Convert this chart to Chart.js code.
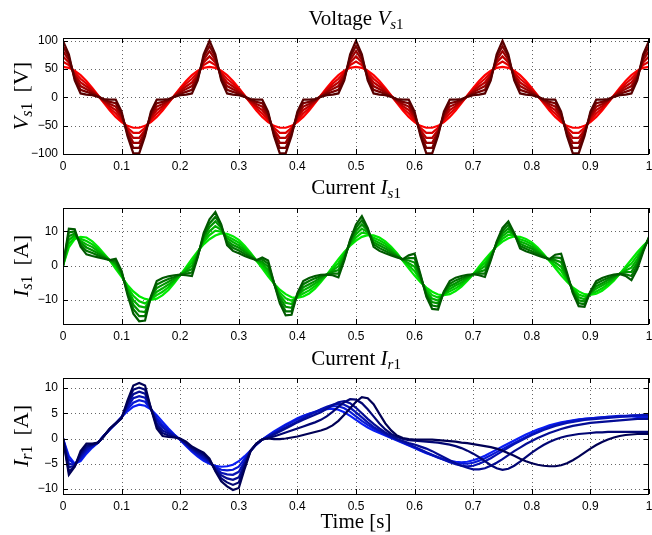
<!DOCTYPE html>
<html lang="en">
<head>
<meta charset="UTF-8">
<title>Vs1 / Is1 / Ir1</title>
<script src="https://cdn.jsdelivr.net/npm/chart.js"></script>
<style>
  body { margin: 0; background: #fff; }
  #fig { position: relative; width: 652px; height: 535px; overflow: hidden; }
  canvas { position: absolute; left: 0; }
  .lab { position: absolute; font-family: "Liberation Serif", "Times New Roman", serif; font-size: 21px; color: #000; white-space: nowrap; z-index: 2; line-height: 1; }
  .ttl { left: 56px; width: 600px; text-align: center; }
  .ylab { width: 200px; height: 22px; line-height: 22px; text-align: center; transform: rotate(-90deg); font-size: 22px; }
  .ylab .u { margin-left: 10px; }
  .lab sub { font-size: 15px; vertical-align: -4px; line-height: 0; }
  .ylab sub { font-size: 16px; }
</style>
</head>
<body>
<div id="fig">
  <div class="lab ttl" style="top:8px">Voltage <i>V</i><sub><i>s</i>1</sub></div>
  <div class="lab ttl" style="top:177px">Current <i>I</i><sub><i>s</i>1</sub></div>
  <div class="lab ttl" style="top:348px">Current <i>I</i><sub><i>r</i>1</sub></div>
  <div class="lab ttl" style="top:511px">Time [s]</div>
  <div class="lab ylab" style="left:-79px; top:85px"><i>V</i><sub><i>s</i>1</sub><span class="u">[V]</span></div>
  <div class="lab ylab" style="left:-79px; top:255px"><i>I</i><sub><i>s</i>1</sub><span class="u">[A]</span></div>
  <div class="lab ylab" style="left:-79px; top:425px"><i>I</i><sub><i>r</i>1</sub><span class="u">[A]</span></div>
  <canvas id="c1" width="652" height="146" style="top:30px"></canvas>
  <canvas id="c2" width="652" height="146" style="top:200px"></canvas>
  <canvas id="c3" width="652" height="146" style="top:370px"></canvas>
</div>
<script>
// time axis [s]
const t = [0, 0.01, 0.02, 0.03, 0.04, 0.05, 0.06, 0.07, 0.08, 0.09,
  0.1, 0.11, 0.12, 0.13, 0.14, 0.15, 0.16, 0.17, 0.18, 0.19,
  0.2, 0.21, 0.22, 0.23, 0.24, 0.25, 0.26, 0.27, 0.28, 0.29,
  0.3, 0.31, 0.32, 0.33, 0.34, 0.35, 0.36, 0.37, 0.38, 0.39,
  0.4, 0.41, 0.42, 0.43, 0.44, 0.45, 0.46, 0.47, 0.48, 0.49,
  0.5, 0.51, 0.52, 0.53, 0.54, 0.55, 0.56, 0.57, 0.58, 0.59,
  0.6, 0.61, 0.62, 0.63, 0.64, 0.65, 0.66, 0.67, 0.68, 0.69,
  0.7, 0.71, 0.72, 0.73, 0.74, 0.75, 0.76, 0.77, 0.78, 0.79,
  0.8, 0.81, 0.82, 0.83, 0.84, 0.85, 0.86, 0.87, 0.88, 0.89,
  0.9, 0.91, 0.92, 0.93, 0.94, 0.95, 0.96, 0.97, 0.98, 0.99, 1];

const xTicks = [0, 0.1, 0.2, 0.3, 0.4, 0.5, 0.6, 0.7, 0.8, 0.9, 1];
const vsTicks = [-100, -50, 0, 50, 100];
const isTicks = [-10, 0, 10];
const irTicks = [-10, -5, 0, 5, 10];

// Voltage Vs1, lightest (red) to darkest
const vs1_a = [
  54, 52.3, 47.3, 39.4, 28.9, 16.7, 3.4, -10.1, -23, -34.4, -43.7, -50.2, -53.6, -53.6, -50.2, -43.7, -34.4, -23, -10.1, 3.4, 16.7, 28.9, 39.4, 47.3, 52.3,
  54, 52.3, 47.3, 39.4, 28.9, 16.7, 3.4, -10.1, -23, -34.4, -43.7, -50.2, -53.6, -53.6, -50.2, -43.7, -34.4, -23, -10.1, 3.4, 16.7, 28.9, 39.4, 47.3, 52.3,
  54, 52.3, 47.3, 39.4, 28.9, 16.7, 3.4, -10.1, -23, -34.4, -43.7, -50.2, -53.6, -53.6, -50.2, -43.7, -34.4, -23, -10.1, 3.4, 16.7, 28.9, 39.4, 47.3, 52.3,
  54, 52.3, 47.3, 39.4, 28.9, 16.7, 3.4, -10.1, -23, -34.4, -43.7, -50.2, -53.6, -53.6, -50.2, -43.7, -34.4, -23, -10.1, 3.4, 16.7, 28.9, 39.4, 47.3, 52.3,
  54];
const vs1_b = [
  63.2, 57, 43.8, 32.9, 24.1, 14.2, 2.9, -8.7, -19.2, -28.3, -40, -53.8, -62.5, -62.5, -53.8, -40, -28.3, -19.2, -8.7, 2.9, 14.2, 24.1, 32.9, 43.8, 57,
  63.2, 57, 43.8, 32.9, 24.1, 14.2, 2.9, -8.7, -19.2, -28.3, -40, -53.8, -62.5, -62.5, -53.8, -40, -28.3, -19.2, -8.7, 2.9, 14.2, 24.1, 32.9, 43.8, 57,
  63.2, 57, 43.8, 32.9, 24.1, 14.2, 2.9, -8.7, -19.2, -28.3, -40, -53.8, -62.5, -62.5, -53.8, -40, -28.3, -19.2, -8.7, 2.9, 14.2, 24.1, 32.9, 43.8, 57,
  63.2, 57, 43.8, 32.9, 24.1, 14.2, 2.9, -8.7, -19.2, -28.3, -40, -53.8, -62.5, -62.5, -53.8, -40, -28.3, -19.2, -8.7, 2.9, 14.2, 24.1, 32.9, 43.8, 57,
  63.2];
const vs1_c = [
  72.4, 61.8, 40.4, 26.4, 19.3, 11.6, 2.4, -7.3, -15.4, -22.2, -36.2, -57.3, -71.4, -71.4, -57.3, -36.2, -22.2, -15.4, -7.3, 2.4, 11.6, 19.3, 26.4, 40.4, 61.8,
  72.4, 61.8, 40.4, 26.4, 19.3, 11.6, 2.4, -7.3, -15.4, -22.2, -36.2, -57.3, -71.4, -71.4, -57.3, -36.2, -22.2, -15.4, -7.3, 2.4, 11.6, 19.3, 26.4, 40.4, 61.8,
  72.4, 61.8, 40.4, 26.4, 19.3, 11.6, 2.4, -7.3, -15.4, -22.2, -36.2, -57.3, -71.4, -71.4, -57.3, -36.2, -22.2, -15.4, -7.3, 2.4, 11.6, 19.3, 26.4, 40.4, 61.8,
  72.4, 61.8, 40.4, 26.4, 19.3, 11.6, 2.4, -7.3, -15.4, -22.2, -36.2, -57.3, -71.4, -71.4, -57.3, -36.2, -22.2, -15.4, -7.3, 2.4, 11.6, 19.3, 26.4, 40.4, 61.8,
  72.4];
const vs1_d = [
  81.6, 66.5, 36.9, 20, 14.6, 9.1, 2, -5.8, -11.6, -16.2, -32.5, -60.9, -80.2, -80.2, -60.9, -32.5, -16.2, -11.6, -5.8, 2, 9.1, 14.6, 20, 36.9, 66.5,
  81.6, 66.5, 36.9, 20, 14.6, 9.1, 2, -5.8, -11.6, -16.2, -32.5, -60.9, -80.2, -80.2, -60.9, -32.5, -16.2, -11.6, -5.8, 2, 9.1, 14.6, 20, 36.9, 66.5,
  81.6, 66.5, 36.9, 20, 14.6, 9.1, 2, -5.8, -11.6, -16.2, -32.5, -60.9, -80.2, -80.2, -60.9, -32.5, -16.2, -11.6, -5.8, 2, 9.1, 14.6, 20, 36.9, 66.5,
  81.6, 66.5, 36.9, 20, 14.6, 9.1, 2, -5.8, -11.6, -16.2, -32.5, -60.9, -80.2, -80.2, -60.9, -32.5, -16.2, -11.6, -5.8, 2, 9.1, 14.6, 20, 36.9, 66.5,
  81.6];
const vs1_e = [
  90.8, 71.3, 33.5, 13.5, 9.8, 6.5, 1.5, -4.4, -7.8, -10.1, -28.7, -64.4, -89.1, -89.1, -64.4, -28.7, -10.1, -7.8, -4.4, 1.5, 6.5, 9.8, 13.5, 33.5, 71.3,
  90.8, 71.3, 33.5, 13.5, 9.8, 6.5, 1.5, -4.4, -7.8, -10.1, -28.7, -64.4, -89.1, -89.1, -64.4, -28.7, -10.1, -7.8, -4.4, 1.5, 6.5, 9.8, 13.5, 33.5, 71.3,
  90.8, 71.3, 33.5, 13.5, 9.8, 6.5, 1.5, -4.4, -7.8, -10.1, -28.7, -64.4, -89.1, -89.1, -64.4, -28.7, -10.1, -7.8, -4.4, 1.5, 6.5, 9.8, 13.5, 33.5, 71.3,
  90.8, 71.3, 33.5, 13.5, 9.8, 6.5, 1.5, -4.4, -7.8, -10.1, -28.7, -64.4, -89.1, -89.1, -64.4, -28.7, -10.1, -7.8, -4.4, 1.5, 6.5, 9.8, 13.5, 33.5, 71.3,
  90.8];
const vs1_f = [
  100, 76, 30, 7, 5, 4, 1, -3, -4, -4, -25, -68, -99, -99, -68, -25, -4, -4, -3, 1, 4, 5, 7, 30, 76,
  100, 76, 30, 7, 5, 4, 1, -3, -4, -4, -25, -68, -99, -99, -68, -25, -4, -4, -3, 1, 4, 5, 7, 30, 76,
  100, 76, 30, 7, 5, 4, 1, -3, -4, -4, -25, -68, -99, -99, -68, -25, -4, -4, -3, 1, 4, 5, 7, 30, 76,
  100, 76, 30, 7, 5, 4, 1, -3, -4, -4, -25, -68, -99, -99, -68, -25, -4, -4, -3, 1, 4, 5, 7, 30, 76,
  100];

// Current Is1, lightest (green) to darkest
const is1_a = [0, 5.3, 7.7, 8.4, 8.2, 7.1, 5.4, 3.5, 1.5, -0.9,
  -3.3, -5.6, -7.5, -8.9, -9.7, -10.0, -9.6, -8.6, -7.1, -5.1,
  -2.8, -0.4, 2.0, 4.2, 6.2, 7.7, 8.8, 9.4, 9.3, 8.6,
  7.5, 5.8, 3.8, 1.5, -0.8, -3.1, -5.2, -7.0, -8.3, -9.2,
  -9.4, -9.0, -8.1, -6.7, -4.8, -2.7, -0.4, 1.9, 4.0, 5.8,
  7.3, 8.4, 8.9, 8.8, 8.2, 7.1, 5.5, 3.6, 1.4, -0.8,
  -2.9, -4.8, -6.4, -7.6, -8.4, -8.6, -8.3, -7.4, -6.1, -4.4,
  -2.5, -0.3, 1.8, 3.8, 5.6, 7.0, 8.0, 8.5, 8.4, 7.8,
  6.8, 5.3, 3.4, 1.4, -0.7, -2.8, -4.7, -6.3, -7.5, -8.3,
  -8.5, -8.2, -7.3, -6.0, -4.4, -2.4, -0.3, 1.8, 3.9, 5.8,
  7.4];
const is1_b = [0, 6.4, 8.3, 7.8, 7.2, 6.2, 4.8, 3.2, 1.5, -0.3,
  -2.9, -6.2, -8.8, -10.4, -11.0, -9.8, -8.6, -7.6, -6.3, -4.6,
  -2.8, -0.9, 1.0, 3.9, 6.9, 8.9, 10.2, 9.9, 8.6, 7.7,
  6.7, 5.2, 3.5, 1.5, -0.2, -2.2, -5.2, -7.8, -9.5, -10.2,
  -9.1, -8.1, -7.2, -6.0, -4.4, -2.7, -0.9, 0.8, 3.5, 6.1,
  8.2, 9.6, 9.3, 8.1, 7.4, 6.4, 5.0, 3.4, 1.5, 0.0,
  -1.6, -4.3, -6.9, -8.6, -9.3, -8.4, -7.5, -6.6, -5.5, -4.1,
  -2.5, -0.8, 0.8, 3.3, 5.9, 7.8, 9.0, 8.7, 7.7, 7.1,
  6.2, 4.8, 3.2, 1.5, 0.1, -1.5, -4.2, -6.6, -8.4, -9.0,
  -8.3, -7.5, -6.6, -5.4, -4.0, -2.4, -0.8, 0.6, 2.9, 5.4,
  7.6];
const is1_c = [0, 7.5, 8.9, 7.2, 6.2, 5.4, 4.2, 2.9, 1.5, 0.3,
  -2.6, -6.8, -10.1, -11.8, -12.2, -9.6, -7.6, -6.6, -5.5, -4.2,
  -2.7, -1.4, 0, 3.5, 7.5, 10.0, 11.5, 10.4, 8.0, 6.9,
  5.9, 4.6, 3.2, 1.5, 0.5, -1.3, -5.1, -8.6, -10.8, -11.2,
  -8.8, -7.2, -6.3, -5.2, -4.0, -2.7, -1.4, -0.2, 3.0, 6.5,
  9.2, 10.8, 9.7, 7.5, 6.6, 5.7, 4.5, 3.1, 1.6, 0.7,
  -0.3, -3.9, -7.4, -9.6, -10.2, -8.2, -6.8, -5.8, -4.9, -3.7,
  -2.5, -1.3, -0.2, 2.9, 6.2, 8.6, 10.0, 8.9, 7.0, 6.4,
  5.5, 4.4, 3.0, 1.6, 0.9, -0.3, -3.6, -7.0, -9.2, -9.8,
  -8.1, -6.7, -5.8, -4.8, -3.7, -2.4, -1.4, -0.6, 1.9, 5.1,
  7.8];
const is1_d = [0, 8.6, 9.4, 6.7, 5.3, 4.5, 3.6, 2.6, 1.6, 0.8,
  -2.2, -7.3, -11.4, -13.3, -13.5, -9.4, -6.5, -5.6, -4.7, -3.7,
  -2.7, -1.8, -1.0, 3.2, 8.2, 11.2, 12.9, 11.0, 7.3, 6.0,
  5.2, 4.0, 2.8, 1.6, 1.1, -0.3, -5.1, -9.4, -12.0, -12.3,
  -8.6, -6.3, -5.4, -4.5, -3.5, -2.6, -1.8, -1.3, 2.5, 6.8,
  10.1, 12.0, 10.2, 6.8, 5.9, 5.0, 4.0, 2.9, 1.7, 1.5,
  0.9, -3.4, -8.0, -10.6, -11.0, -7.9, -6.0, -5.1, -4.2, -3.4,
  -2.5, -1.8, -1.3, 2.4, 6.4, 9.4, 10.9, 9.1, 6.4, 5.6,
  4.9, 3.9, 2.8, 1.7, 1.6, 1.0, -3.1, -7.3, -10.1, -10.5,
  -7.9, -6.0, -5.1, -4.2, -3.3, -2.4, -1.9, -1.8, 1.0, 4.7,
  8.0];
const is1_e = [0, 9.7, 10.0, 6.1, 4.3, 3.7, 3.0, 2.3, 1.6, 1.4,
  -1.9, -7.9, -12.7, -14.7, -14.7, -9.2, -5.5, -4.6, -3.9, -3.3,
  -2.6, -2.3, -2.0, 2.8, 8.8, 12.3, 14.2, 11.5, 6.7, 5.2,
  4.4, 3.4, 2.5, 1.6, 1.8, 0.6, -5.0, -10.2, -13.3, -13.3,
  -8.3, -5.4, -4.5, -3.7, -3.1, -2.6, -2.3, -2.3, 2.0, 7.2,
  11.1, 13.2, 10.6, 6.2, 5.1, 4.3, 3.5, 2.6, 1.8, 2.2,
  2.2, -3.0, -8.5, -11.6, -11.9, -7.7, -5.3, -4.3, -3.6, -3.0,
  -2.5, -2.3, -2.3, 2.0, 6.7, 10.2, 11.9, 9.3, 5.7, 4.9,
  4.2, 3.5, 2.6, 1.8, 2.4, 2.2, -2.5, -7.7, -10.9, -11.3,
  -7.7, -5.2, -4.3, -3.6, -3.0, -2.4, -2.5, -3.0, 0.0, 4.4,
  8.2];
const is1_f = [0, 10.8, 10.6, 5.5, 3.3, 2.8, 2.4, 2.0, 1.6, 2.0,
  -1.5, -8.5, -14.0, -16.2, -16.0, -9.0, -4.5, -3.6, -3.1, -2.8,
  -2.6, -2.8, -3.0, 2.5, 9.5, 13.5, 15.6, 12.0, 6.0, 4.3,
  3.6, 2.8, 2.2, 1.6, 2.4, 1.5, -5.0, -11.0, -14.5, -14.3,
  -8.0, -4.5, -3.6, -3.0, -2.7, -2.6, -2.8, -3.4, 1.5, 7.5,
  12.0, 14.4, 11.0, 5.5, 4.3, 3.6, 3.0, 2.4, 1.9, 3.0,
  3.5, -2.5, -9.0, -12.6, -12.8, -7.5, -4.5, -3.5, -3.0, -2.7,
  -2.5, -2.8, -3.3, 1.5, 7.0, 11.0, 12.9, 9.5, 5.0, 4.2,
  3.6, 3.0, 2.4, 1.9, 3.2, 3.5, -2.0, -8.0, -11.8, -12.0,
  -7.5, -4.5, -3.6, -3.0, -2.6, -2.4, -3.0, -4.2, -1.0, 4.0,
  8.4];

// Current Ir1, lightest (blue) to darkest
const ir1_a = [0, -3.5, -5.0, -4.5, -3.0, -1.8, -0.8, 0.6, 1.8, 3.0,
  4.3, 5.4, 6.3, 6.7, 6.5, 5.8, 4.6, 3.3, 2.0, 0.8,
  -0.3, -1.5, -2.6, -3.6, -4.4, -5.0, -5.4, -5.6, -5.5, -5.2,
  -4.5, -3.5, -2.4, -1.2, -0.2, 0.6, 1.4, 2.1, 2.8, 3.4,
  4.0, 4.5, 4.9, 5.2, 5.5, 5.8, 5.9, 5.7, 5.2, 4.5,
  3.7, 2.9, 2.2, 1.6, 1.1, 0.6, 0.1, -0.4, -0.9, -1.4,
  -1.9, -2.4, -2.9, -3.3, -3.7, -4.1, -4.4, -4.6, -4.7, -4.6,
  -4.3, -3.9, -3.4, -2.8, -2.2, -1.6, -1.0, -0.4, 0.2, 0.8,
  1.3, 1.8, 2.2, 2.6, 2.9, 3.2, 3.4, 3.6, 3.8, 3.9,
  4.0, 4.1, 4.2, 4.3, 4.3, 4.4, 4.4, 4.4, 4.3, 4.2,
  4.0];
const ir1_b = [0, -4.2, -5.1, -4.1, -2.6, -1.6, -0.8, 0.6, 1.8, 3.0,
  4.2, 5.8, 7.1, 7.6, 7.3, 5.8, 4.1, 2.7, 1.7, 0.7,
  -0.2, -1.3, -2.4, -3.3, -4.1, -4.8, -5.6, -6.2, -6.3, -6.2,
  -5.6, -4.0, -2.4, -1.2, -0.2, 0.5, 1.2, 1.9, 2.6, 3.2,
  3.8, 4.4, 4.9, 5.3, 5.7, 6.1, 6.4, 6.4, 6.0, 5.3,
  4.4, 3.5, 2.7, 2.0, 1.4, 0.8, 0.2, -0.3, -0.8, -1.3,
  -1.8, -2.3, -2.8, -3.3, -3.8, -4.2, -4.6, -4.9, -5.0, -5.0,
  -4.8, -4.4, -3.9, -3.3, -2.7, -2.1, -1.5, -0.9, -0.3, 0.3,
  0.9, 1.4, 1.9, 2.3, 2.7, 3.0, 3.3, 3.5, 3.7, 3.9,
  4.0, 4.1, 4.2, 4.3, 4.4, 4.5, 4.5, 4.6, 4.6, 4.5,
  4.4];
const ir1_c = [0, -5.0, -5.2, -3.7, -2.2, -1.5, -0.8, 0.6, 1.9, 3.0,
  4.2, 6.2, 8.0, 8.4, 8.1, 5.9, 3.6, 2.2, 1.3, 0.6,
  -0.2, -1.1, -2.2, -3.0, -3.8, -4.6, -5.8, -6.8, -7.1, -7.2,
  -6.6, -4.5, -2.4, -1.1, -0.2, 0.4, 1.0, 1.6, 2.2, 2.8,
  3.4, 4.0, 4.6, 5.2, 5.8, 6.3, 6.7, 6.9, 6.7, 6.1,
  5.2, 4.2, 3.2, 2.3, 1.6, 0.9, 0.3, -0.2, -0.7, -1.2,
  -1.7, -2.2, -2.7, -3.2, -3.7, -4.2, -4.7, -5.1, -5.4, -5.5,
  -5.4, -5.0, -4.5, -3.9, -3.2, -2.5, -1.8, -1.1, -0.5, 0.1,
  0.7, 1.2, 1.7, 2.1, 2.5, 2.8, 3.1, 3.3, 3.5, 3.7,
  3.8, 3.9, 4.0, 4.1, 4.2, 4.3, 4.4, 4.5, 4.6, 4.7,
  4.7];
const ir1_d = [0, -5.7, -5.4, -3.3, -1.8, -1.3, -0.8, 0.5, 1.9, 3.0,
  4.1, 6.7, 8.8, 9.3, 8.9, 5.9, 3.0, 1.6, 1.0, 0.4,
  -0.1, -1.0, -2.0, -2.8, -3.4, -4.4, -6.1, -7.3, -7.9, -8.2,
  -7.7, -5.0, -2.5, -1.1, -0.2, 0.2, 0.8, 1.4, 2.0, 2.6,
  3.2, 3.7, 4.2, 4.7, 5.2, 5.9, 6.6, 7.2, 7.4, 7.0,
  6.1, 5.0, 3.9, 2.9, 2.0, 1.2, 0.5, -0.1, -0.5, -0.9,
  -1.2, -1.6, -2.0, -2.5, -3.1, -3.7, -4.3, -4.9, -5.4, -5.8,
  -6.1, -6.1, -5.9, -5.4, -4.8, -4.1, -3.3, -2.5, -1.8, -1.1,
  -0.5, 0.1, 0.6, 1.1, 1.5, 1.9, 2.2, 2.5, 2.7, 2.9,
  3.1, 3.2, 3.3, 3.4, 3.5, 3.6, 3.7, 3.8, 3.9, 3.9,
  3.9];
const ir1_e = [0, -6.5, -5.5, -2.9, -1.4, -1.2, -0.8, 0.5, 2.0, 3.0,
  4.1, 7.1, 9.7, 10.1, 9.7, 6.0, 2.5, 1.1, 0.6, 0.3,
  -0.1, -0.8, -1.8, -2.5, -3.1, -4.2, -6.3, -7.9, -8.7, -9.2,
  -8.7, -5.5, -2.5, -1.0, -0.2, 0.1, 0.4, 0.8, 1.2, 1.6,
  2.0, 2.4, 2.8, 3.2, 3.7, 4.4, 5.3, 6.3, 7.2, 7.8,
  7.7, 7.0, 5.8, 4.4, 3.0, 1.8, 0.9, 0.3, -0.1, -0.3,
  -0.4, -0.5, -0.6, -0.7, -0.8, -1.0, -1.2, -1.5, -1.9, -2.4,
  -3.0, -3.7, -4.5, -5.3, -5.9, -6.2, -6.0, -5.4, -4.6, -3.7,
  -2.8, -2.0, -1.3, -0.7, -0.2, 0.2, 0.5, 0.7, 0.9, 1.0,
  1.1, 1.2, 1.2, 1.3, 1.3, 1.3, 1.3, 1.3, 1.3, 1.3,
  1.3];
const ir1_f = [0, -7.2, -5.6, -2.5, -1.0, -1.0, -0.8, 0.5, 2.0, 3.0,
  4.0, 7.5, 10.5, 11.0, 10.5, 6.0, 2.0, 0.5, 0.3, 0.2,
  0.0, -0.6, -1.6, -2.2, -2.8, -4.0, -6.5, -8.5, -9.5, -10.2,
  -9.8, -6.0, -2.5, -1.0, -0.2, 0.0, -0.1, -0.1, 0.0, 0.2,
  0.4, 0.7, 1.0, 1.3, 1.6, 2.0, 2.6, 3.5, 4.7, 6.0,
  7.3, 8.2, 8.0, 6.8, 4.9, 3.0, 1.6, 0.6, 0.1, -0.1,
  -0.2, -0.2, -0.2, -0.2, -0.3, -0.4, -0.5, -0.6, -0.8, -0.9,
  -1.1, -1.3, -1.5, -1.7, -2.0, -2.4, -2.9, -3.4, -4.0, -4.5,
  -4.9, -5.2, -5.4, -5.5, -5.5, -5.3, -4.9, -4.3, -3.6, -2.8,
  -2.0, -1.3, -0.7, -0.2, 0.2, 0.5, 0.7, 0.8, 0.9, 0.9,
  0.9];

const reds = ['rgb(255,0,0)', 'rgb(222,0,0)', 'rgb(188,0,0)', 'rgb(155,0,0)', 'rgb(122,0,0)', 'rgb(88,0,0)'];
const greens = ['rgb(0,235,0)', 'rgb(0,206,0)', 'rgb(0,177,0)', 'rgb(0,148,0)', 'rgb(0,119,0)', 'rgb(0,90,0)'];
const blues = ['rgb(10,30,245)', 'rgb(8,24,212)', 'rgb(6,18,180)', 'rgb(4,12,148)', 'rgb(2,6,116)', 'rgb(0,0,85)'];

// dotted grid under the lines, box and inward ticks on top (matlab look)
const frame = {
  id: 'frame',
  beforeDatasetsDraw(chart) {
    const { ctx, chartArea: a, scales } = chart;
    ctx.save();
    ctx.strokeStyle = 'rgba(0,0,0,0.6)';
    ctx.lineWidth = 1;
    ctx.setLineDash([1, 3]);
    ctx.beginPath();
    scales.x.ticks.forEach(tk => {
      const px = Math.round(scales.x.getPixelForValue(tk.value)) + 0.5;
      if (px < a.left + 2 || px > a.right - 2) return;
      ctx.moveTo(px, a.top); ctx.lineTo(px, a.bottom);
    });
    scales.y.ticks.forEach(tk => {
      const py = Math.round(scales.y.getPixelForValue(tk.value)) + 0.5;
      if (py < a.top + 2 || py > a.bottom - 2) return;
      ctx.moveTo(a.left, py); ctx.lineTo(a.right, py);
    });
    ctx.stroke();
    ctx.restore();
  },
  afterDatasetsDraw(chart) {
    const { ctx, chartArea: a, scales } = chart;
    ctx.save();
    ctx.strokeStyle = '#000';
    ctx.lineWidth = 1;
    ctx.beginPath();
    scales.x.ticks.forEach(tk => {
      const px = Math.round(scales.x.getPixelForValue(tk.value)) + 0.5;
      ctx.moveTo(px, a.bottom); ctx.lineTo(px, a.bottom - 5);
      ctx.moveTo(px, a.top); ctx.lineTo(px, a.top + 5);
    });
    scales.y.ticks.forEach(tk => {
      const py = Math.round(scales.y.getPixelForValue(tk.value)) + 0.5;
      ctx.moveTo(a.left, py); ctx.lineTo(a.left + 5, py);
      ctx.moveTo(a.right, py); ctx.lineTo(a.right - 5, py);
    });
    ctx.stroke();
    ctx.strokeRect(Math.round(a.left) + 0.5, Math.round(a.top) + 0.5,
      Math.round(a.right - a.left) - 1, Math.round(a.bottom - a.top));
    ctx.restore();
  }
};

const tickFont = { family: '"Liberation Sans", Arial, sans-serif', size: 12 };
const fmtY = v => (v < 0 ? '\u2212' + Math.abs(v) : String(v));
const noPad = s => { s.paddingLeft = 0; s.paddingRight = 0; s.paddingTop = 0; s.paddingBottom = 0; };

function panel(id, series, colors, yMin, yMax, yTicks) {
  // darkest first so it ends up drawn on top
  const datasets = series.map((s, k) => ({
    data: s.map((v, i) => ({ x: t[i], y: v })),
    borderColor: colors[k],
    borderWidth: 2.2,
    pointRadius: 0,
    tension: 0,
    fill: false
  })).reverse();

  new Chart(document.getElementById(id), {
    type: 'line',
    data: { datasets },
    options: {
      responsive: false,
      animation: false,
      events: [],
      layout: { padding: { top: 8, right: 3, left: 0, bottom: 0 } },
      plugins: { legend: { display: false }, tooltip: { enabled: false } },
      scales: {
        x: {
          type: 'linear', min: 0, max: 1,
          afterBuildTicks: s => { s.ticks = xTicks.map(v => ({ value: v })); },
          afterFit: s => { s.height = 22; noPad(s); },
          grid: { display: false, drawTicks: false },
          border: { display: false },
          ticks: { autoSkip: false, maxRotation: 0, padding: 5, color: '#000', font: tickFont,
            callback: v => String(v) }
        },
        y: {
          type: 'linear', min: yMin, max: yMax,
          afterBuildTicks: s => { s.ticks = yTicks.map(v => ({ value: v })); },
          afterFit: s => { s.width = 63; noPad(s); },
          grid: { display: false, drawTicks: false },
          border: { display: false },
          ticks: { padding: 5, color: '#000', font: tickFont, callback: fmtY }
        }
      }
    },
    plugins: [frame]
  });
}

panel('c1', [vs1_a, vs1_b, vs1_c, vs1_d, vs1_e, vs1_f], reds, -100, 105, vsTicks);
panel('c2', [is1_a, is1_b, is1_c, is1_d, is1_e, is1_f], greens, -17, 16.8, isTicks);
panel('c3', [ir1_a, ir1_b, ir1_c, ir1_d, ir1_e, ir1_f], blues, -11, 12, irTicks);
</script>
</body>
</html>
